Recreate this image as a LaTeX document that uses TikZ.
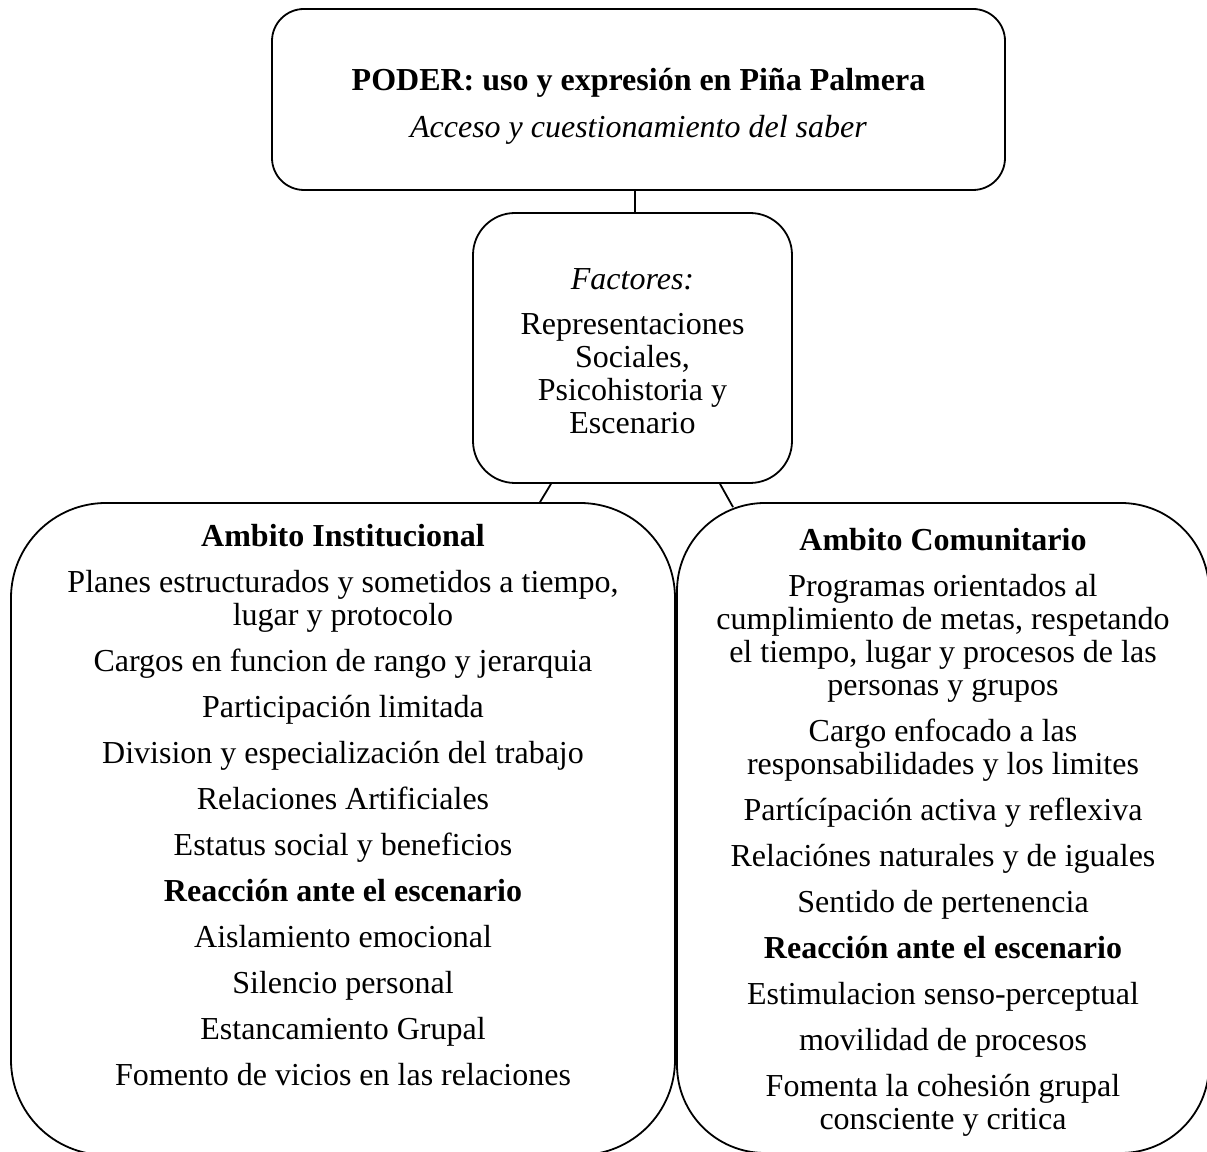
\documentclass[tikz,border=0pt]{standalone}
\usepackage{fontspec}
\setmainfont{Liberation Serif}
\usetikzlibrary{positioning}

\begin{document}
\begin{tikzpicture}[
    x=1pt, y=1pt,
    box/.style={draw, line width=1.8pt, inner sep=0pt},
    txt/.style={align=center, inner sep=0pt, font=\fontsize{32}{33}\selectfont},
    link/.style={line width=1.8pt}
]
\useasboundingbox (0,0) rectangle (1207,1151);

% ---- PODER (top) ----
\node[box, rounded corners=32pt, minimum width=733pt, minimum height=181pt] (poder) at (638.5,1051.5) {};
\node[txt, below=60pt of poder.north] (poder_txt)
    {\textbf{PODER: uso y expresión en Piña Palmera}\\[14pt]
     \textit{Acceso y cuestionamiento del saber}};

% ---- Factores (middle) ----
\node[box, rounded corners=42pt, minimum width=319pt, minimum height=270pt] (fact) at (632.5,803) {};
\node[txt, below=56pt of fact.north] (fact_txt)
    {\textit{Factores:}\\[12pt]Representaciones\\Sociales,\\Psicohistoria y\\Escenario};

% ---- Ambitos (bottom) ----
\node[box, rounded corners=95pt, minimum width=664pt, minimum height=652pt] (inst) at (343,322) {};
\node[box, rounded corners=88pt, minimum width=532pt, minimum height=650pt] (comu) at (943,323) {};

\node[txt, below=22pt of inst.north] (inst_txt)
    {\textbf{Ambito Institucional}\\[13pt]
     Planes estructurados y sometidos a tiempo,\\lugar y protocolo\\[13pt]
     Cargos en funcion de rango y jerarquia\\[13pt]
     Participación limitada\\[13pt]
     Division y especialización del trabajo\\[13pt]
     Relaciones Artificiales\\[13pt]
     Estatus social y beneficios\\[13pt]
     \textbf{Reacción ante el escenario}\\[13pt]
     Aislamiento emocional\\[13pt]
     Silencio personal\\[13pt]
     Estancamiento Grupal\\[13pt]
     Fomento de vicios en las relaciones};

\node[txt, below=26pt of comu.north] (comu_txt)
    {\textbf{Ambito Comunitario}\\[13pt]
     Programas orientados al\\cumplimiento de metas, respetando\\
     el tiempo, lugar y procesos de las\\personas y grupos\\[13pt]
     Cargo enfocado a las\\responsabilidades y los limites\\[13pt]
     Partícípación activa y reflexiva\\[13pt]
     Relaciónes naturales y de iguales\\[13pt]
     Sentido de pertenencia\\[13pt]
     \textbf{Reacción ante el escenario}\\[13pt]
     Estimulacion senso-perceptual\\[13pt]
     movilidad de procesos\\[13pt]
     Fomenta la cohesión grupal\\consciente y critica};

% ---- connectors ----
\draw[link] ([xshift=2.5pt]fact.north) -- ([xshift=2.5pt]fact.north |- poder.south);
\draw[link] ([xshift=-81.5pt]fact.south) -- ([xshift=197pt]inst.north);
\draw[link] ([xshift=87.5pt]fact.south) -- ([xshift=-210pt, yshift=-5pt]comu.north);

\end{tikzpicture}
\end{document}
